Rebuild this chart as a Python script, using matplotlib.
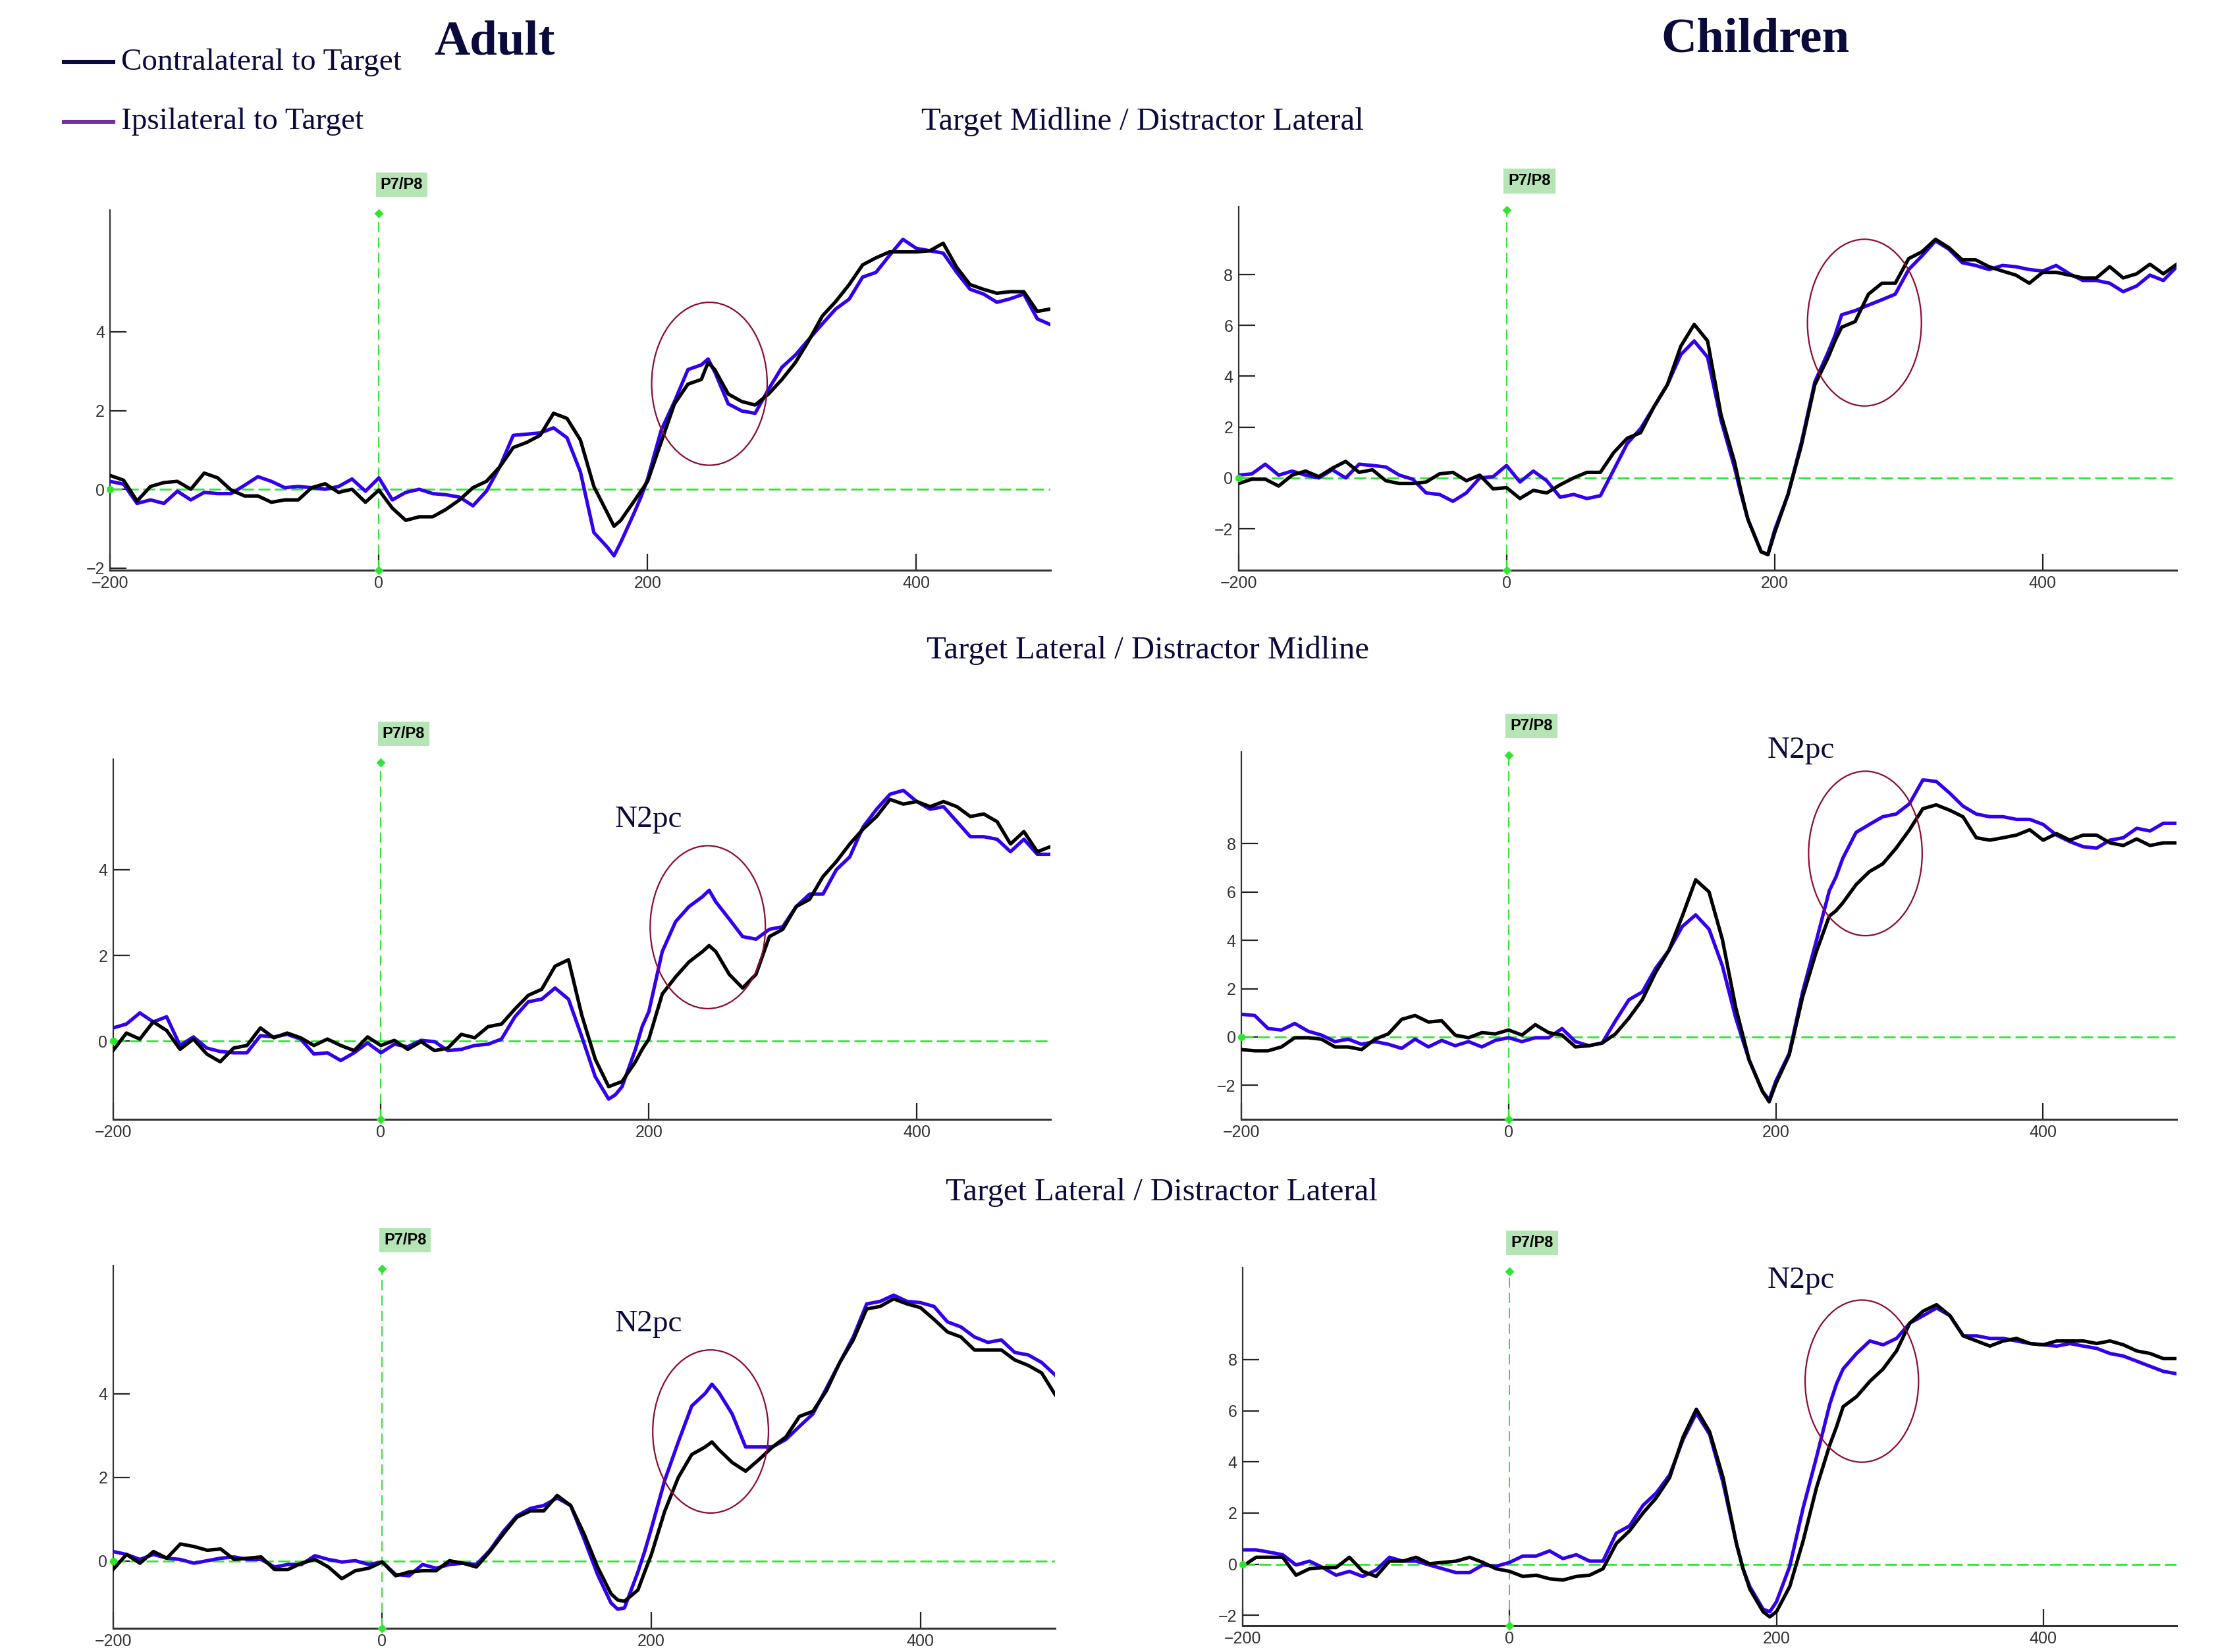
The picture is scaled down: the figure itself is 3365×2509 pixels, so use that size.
import matplotlib
matplotlib.use('Agg')
import matplotlib.pyplot as plt
import matplotlib.transforms as mtransforms
from matplotlib.patches import Ellipse

# time axis (ms)
time_ms = [-200, -190, -180, -170, -160, -150, -140, -130, -120, -110,
           -100, -90, -80, -70, -60, -50, -40, -30, -20, -10,
           0, 10, 20, 30, 40, 50, 60, 70, 80, 90,
           100, 110, 120, 130, 140, 150, 160, 170, 175, 180,
           190, 195, 200, 210, 220, 230, 240, 245, 250, 260,
           270, 280, 290, 300, 310, 320, 330, 340, 350, 360,
           370, 380, 390, 400, 410, 420, 430, 440, 450, 460,
           470, 480, 490, 500]

# Adult - Target Midline / Distractor Lateral
adult_tmdl_contra = [0.35, 0.23, -0.30, 0.07, 0.17, 0.20, 0.00, 0.41, 0.29, -0.02,
                     -0.17, -0.17, -0.33, -0.27, -0.27, 0.04, 0.14, -0.08, 0.00, -0.33,
                     -0.02, -0.48, -0.79, -0.70, -0.70, -0.51, -0.27, 0.04, 0.20, 0.57,
                     1.06, 1.19, 1.37, 1.93, 1.80, 1.25, 0.07, -0.60, -0.94, -0.79,
                     -0.30, -0.05, 0.20, 1.19, 2.17, 2.67, 2.79, 3.22, 3.04, 2.42,
                     2.23, 2.14, 2.42, 2.79, 3.22, 3.78, 4.40, 4.77, 5.20, 5.70,
                     5.88, 6.03, 6.03, 6.03, 6.06, 6.25, 5.64, 5.20, 5.08, 4.98,
                     5.02, 5.02, 4.52, 4.58]
adult_tmdl_ipsi = [0.20, 0.13, -0.36, -0.27, -0.36, -0.05, -0.27, -0.08, -0.11, -0.11,
                   0.10, 0.32, 0.20, 0.04, 0.07, 0.04, 0.00, 0.07, 0.26, -0.05,
                   0.29, -0.27, -0.08, 0.00, -0.11, -0.14, -0.20, -0.42, -0.05, 0.57,
                   1.37, 1.40, 1.43, 1.56, 1.31, 0.44, -1.10, -1.47, -1.69, -1.35,
                   -0.60, -0.20, 0.26, 1.49, 2.23, 3.04, 3.16, 3.31, 2.98, 2.17,
                   1.99, 1.93, 2.54, 3.10, 3.41, 3.81, 4.20, 4.58, 4.83, 5.39,
                   5.51, 5.94, 6.35, 6.12, 6.06, 6.00, 5.51, 5.08, 4.96, 4.75,
                   4.84, 4.96, 4.33, 4.18]

# Children - Target Midline / Distractor Lateral
child_tmdl_contra = [-0.22, -0.05, -0.05, -0.32, 0.11, 0.27, 0.05, 0.38, 0.65, 0.22,
                     0.32, -0.11, -0.22, -0.22, -0.16, 0.16, 0.22, -0.11, 0.11, -0.43,
                     -0.38, -0.81, -0.49, -0.59, -0.27, 0.00, 0.22, 0.22, 1.00, 1.56,
                     1.78, 2.80, 3.67, 5.18, 6.04, 5.39, 2.48, 0.65, -0.54, -1.62,
                     -2.91, -3.02, -2.16, -0.65, 1.29, 3.67, 4.75, 5.39, 5.93, 6.15,
                     7.23, 7.66, 7.66, 8.63, 8.90, 9.39, 9.06, 8.58, 8.58, 8.31,
                     8.14, 7.98, 7.66, 8.09, 8.09, 7.98, 7.87, 7.87, 8.31, 7.87,
                     8.03, 8.41, 8.03, 8.41]
child_tmdl_ipsi = [0.11, 0.16, 0.54, 0.11, 0.27, 0.11, 0.00, 0.32, 0.00, 0.54,
                   0.49, 0.43, 0.11, -0.05, -0.59, -0.65, -0.92, -0.59, 0.00, 0.05,
                   0.49, -0.16, 0.27, -0.11, -0.76, -0.65, -0.81, -0.70, 0.32, 1.35,
                   1.94, 2.80, 3.67, 4.85, 5.39, 4.75, 2.27, 0.43, -0.65, -1.62,
                   -2.91, -3.00, -2.05, -0.65, 1.40, 3.78, 4.96, 5.60, 6.42, 6.58,
                   6.80, 7.01, 7.23, 8.20, 8.74, 9.33, 9.00, 8.47, 8.36, 8.20,
                   8.36, 8.31, 8.20, 8.14, 8.36, 8.03, 7.77, 7.77, 7.66, 7.33,
                   7.55, 7.98, 7.77, 8.31]

# Adult - Target Lateral / Distractor Midline
adult_tldm_contra = [-0.22, 0.19, 0.05, 0.45, 0.25, -0.19, 0.05, -0.30, -0.48, -0.16,
                     -0.10, 0.31, 0.08, 0.19, 0.08, -0.10, 0.05, -0.10, -0.22, 0.10,
                     -0.10, 0.02, -0.19, -0.01, -0.22, -0.16, 0.16, 0.08, 0.34, 0.40,
                     0.75, 1.07, 1.21, 1.75, 1.90, 0.60, -0.42, -1.06, -1.00, -0.94,
                     -0.48, -0.19, 0.05, 1.10, 1.50, 1.85, 2.09, 2.23, 2.09, 1.56,
                     1.24, 1.56, 2.44, 2.61, 3.14, 3.31, 3.84, 4.19, 4.60, 4.95,
                     5.24, 5.64, 5.53, 5.59, 5.47, 5.59, 5.47, 5.24, 5.30, 5.12,
                     4.60, 4.89, 4.42, 4.54]
adult_tldm_ipsi = [0.31, 0.40, 0.66, 0.45, 0.57, -0.10, 0.10, -0.16, -0.24, -0.27,
                   -0.27, 0.13, 0.10, 0.16, 0.05, -0.30, -0.27, -0.45, -0.27, -0.04,
                   -0.27, -0.07, -0.13, 0.02, -0.01, -0.22, -0.19, -0.10, -0.07, 0.05,
                   0.57, 0.92, 0.98, 1.24, 0.98, 0.10, -0.83, -1.35, -1.25, -1.06,
                   -0.19, 0.34, 0.69, 2.09, 2.79, 3.14, 3.37, 3.52, 3.25, 2.85,
                   2.44, 2.38, 2.61, 2.67, 3.14, 3.43, 3.43, 4.00, 4.30, 5.00,
                   5.41, 5.76, 5.85, 5.59, 5.41, 5.47, 5.12, 4.77, 4.77, 4.71,
                   4.42, 4.71, 4.36, 4.36]

# Children - Target Lateral / Distractor Midline
child_tldm_contra = [-0.52, -0.57, -0.57, -0.41, -0.03, -0.03, -0.09, -0.41, -0.41, -0.52,
                     -0.09, 0.13, 0.73, 0.89, 0.62, 0.67, 0.08, -0.03, 0.18, 0.13,
                     0.29, 0.08, 0.51, 0.18, 0.08, -0.41, -0.36, -0.25, 0.13, 0.78,
                     1.54, 2.67, 3.59, 5.00, 6.50, 6.00, 4.03, 1.21, 0.13, -0.95,
                     -2.25, -2.68, -1.93, -0.74, 1.65, 3.48, 5.00, 5.22, 5.54, 6.30,
                     6.84, 7.16, 7.81, 8.57, 9.44, 9.60, 9.38, 9.11, 8.24, 8.14,
                     8.24, 8.35, 8.57, 8.14, 8.41, 8.14, 8.35, 8.35, 8.03, 7.92,
                     8.19, 7.92, 8.03, 8.03]
child_tldm_ipsi = [0.94, 0.89, 0.35, 0.29, 0.56, 0.24, 0.08, -0.19, -0.09, -0.30,
                   -0.19, -0.30, -0.47, -0.09, -0.41, -0.14, -0.36, -0.19, -0.41, -0.14,
                   -0.03, -0.19, -0.03, -0.03, 0.35, -0.19, -0.36, -0.25, 0.67, 1.54,
                   1.86, 2.84, 3.59, 4.57, 5.05, 4.46, 2.94, 0.78, -0.09, -0.95,
                   -2.25, -2.60, -1.82, -0.68, 1.86, 3.92, 6.05, 6.62, 7.38, 8.46,
                   8.79, 9.11, 9.22, 9.65, 10.63, 10.57, 10.09, 9.55, 9.22, 9.11,
                   9.11, 9.00, 9.00, 8.79, 8.35, 8.08, 7.87, 7.81, 8.14, 8.24,
                   8.63, 8.52, 8.84, 8.84]

# Adult - Target Lateral / Distractor Lateral
adult_tldl_contra = [-0.20, 0.16, -0.05, 0.23, 0.07, 0.41, 0.35, 0.26, 0.29, 0.04,
                     0.07, 0.10, -0.20, -0.20, -0.05, 0.04, -0.14, -0.42, -0.23, -0.17,
                     -0.02, -0.35, -0.26, -0.23, -0.23, 0.01, -0.05, -0.14, 0.23, 0.65,
                     1.05, 1.20, 1.20, 1.57, 1.33, 0.65, -0.14, -0.78, -0.93, -0.96,
                     -0.69, -0.26, 0.16, 1.20, 2.00, 2.55, 2.73, 2.85, 2.67, 2.36,
                     2.15, 2.43, 2.73, 2.97, 3.46, 3.58, 4.07, 4.75, 5.29, 6.03,
                     6.09, 6.27, 6.15, 6.06, 5.78, 5.48, 5.36, 5.05, 5.05, 5.05,
                     4.81, 4.68, 4.50, 3.98]
adult_tldl_ipsi = [0.23, 0.16, 0.04, 0.16, 0.07, 0.04, -0.05, 0.01, 0.07, 0.10,
                   0.04, 0.04, -0.14, -0.08, -0.08, 0.13, 0.04, -0.02, 0.01, -0.08,
                   -0.02, -0.32, -0.35, -0.08, -0.17, -0.08, -0.05, -0.08, 0.26, 0.71,
                   1.08, 1.26, 1.33, 1.51, 1.33, 0.53, -0.32, -1.00, -1.15, -1.12,
                   -0.26, 0.23, 0.78, 1.94, 2.85, 3.71, 4.01, 4.23, 4.04, 3.52,
                   2.73, 2.73, 2.73, 2.91, 3.22, 3.52, 4.13, 4.75, 5.36, 6.15,
                   6.21, 6.36, 6.21, 6.18, 6.09, 5.72, 5.60, 5.36, 5.23, 5.29,
                   4.99, 4.93, 4.75, 4.45]

# Children - Target Lateral / Distractor Lateral
child_tldl_contra = [-0.08, 0.27, 0.27, 0.27, -0.43, -0.18, -0.13, -0.13, 0.27, -0.28,
                     -0.48, 0.12, 0.12, 0.27, 0.02, 0.07, 0.12, 0.27, 0.07, -0.18,
                     -0.28, -0.48, -0.43, -0.57, -0.62, -0.48, -0.43, -0.18, 0.81, 1.31,
                     2.00, 2.60, 3.39, 4.97, 6.06, 5.17, 3.39, 0.81, -0.18, -0.97,
                     -1.86, -2.06, -1.86, -0.87, 0.91, 2.99, 4.67, 5.37, 6.16, 6.55,
                     7.15, 7.64, 8.34, 9.43, 9.90, 10.15, 9.72, 8.93, 8.73, 8.53,
                     8.73, 8.83, 8.63, 8.58, 8.73, 8.73, 8.73, 8.63, 8.73, 8.58,
                     8.34, 8.24, 8.04, 8.04]
child_tldl_ipsi = [0.56, 0.56, 0.47, 0.37, -0.03, 0.12, -0.13, -0.43, -0.28, -0.48,
                   -0.23, 0.27, 0.12, 0.12, -0.03, -0.18, -0.33, -0.33, -0.03, -0.08,
                   0.07, 0.32, 0.32, 0.52, 0.22, 0.37, 0.12, 0.12, 1.21, 1.50,
                   2.30, 2.79, 3.49, 4.87, 5.91, 5.07, 3.19, 0.81, -0.18, -0.87,
                   -1.76, -1.86, -1.47, -0.08, 2.20, 4.18, 6.26, 7.05, 7.64, 8.24,
                   8.73, 8.58, 8.83, 9.43, 9.72, 10.02, 9.72, 8.93, 8.93, 8.83,
                   8.83, 8.73, 8.63, 8.58, 8.53, 8.63, 8.53, 8.44, 8.24, 8.14,
                   7.94, 7.74, 7.54, 7.45]

x_ticks = [-200, 0, 200, 400]
adult_yticks = [-2, 0, 2, 4]
child_yticks = [-2, 0, 2, 4, 6, 8]

TEXT_COL = '#0b0b3b'
GREEN = '#2ee62e'
SERIF = ['Liberation Serif', 'DejaVu Serif']
NARROW = ['Liberation Sans Narrow', 'Liberation Sans', 'DejaVu Sans']

fig = plt.figure(figsize=(16.83, 12.545), dpi=200)


def panel(rect, contra, ipsi, ylim, yticks, ell):
    ax = fig.add_axes(rect)
    ax.plot(time_ms, ipsi, color='#3300ee', lw=1.9, zorder=3)
    ax.plot(time_ms, contra, color='black', lw=1.9, zorder=4)
    ax.set_xlim(-200, 500)
    ax.set_ylim(*ylim)
    for s in ['top', 'right']:
        ax.spines[s].set_visible(False)
    ax.spines['left'].set_color('#333333')
    ax.spines['left'].set_linewidth(0.8)
    ax.spines['bottom'].set_color('#333333')
    ax.spines['bottom'].set_linewidth(1.1)
    ax.set_xticks(x_ticks)
    ax.set_yticks(yticks)
    ax.tick_params(direction='in', length=9, width=0.8, color='#222222',
                   labelsize=9, labelcolor='#333333', pad=3)
    for lab in ax.get_xticklabels() + ax.get_yticklabels():
        lab.set_family(NARROW)
    # baseline and stimulus onset
    ax.axhline(0, color=GREEN, lw=1.0, dashes=(6.5, 2.5), zorder=2)
    ax.plot([-200], [0], 'o', color=GREEN, ms=3, clip_on=False, zorder=5)
    trans = mtransforms.blended_transform_factory(ax.transData, ax.transAxes)
    ax.plot([0, 0], [0.0, 0.99], color=GREEN, lw=0.7, dashes=(8, 4),
            transform=trans, clip_on=False, zorder=2)
    ax.plot([0, 0], [0.0, 0.99], 'D', color=GREEN, ms=2.5,
            transform=trans, clip_on=False, zorder=5)
    ax.text(17, 1.07, 'P7/P8', transform=trans, ha='center', va='center',
            fontsize=8.5, fontweight='bold', family=NARROW, color='black',
            bbox=dict(boxstyle='square,pad=0.3', fc='#b5e4b5', ec='none'))
    cx, cy, w, h = ell
    ax.add_patch(Ellipse((cx, cy), w, h, fill=False, ec='#8b0a30', lw=0.8,
                         zorder=6))
    return ax


panel([0.0497, 0.655, 0.4243, 0.218], adult_tmdl_contra, adult_tmdl_ipsi,
      (-2.05, 7.1), adult_yticks, (246, 2.68, 86, 4.14))
panel([0.5587, 0.655, 0.4233, 0.220], child_tmdl_contra, child_tmdl_ipsi,
      (-3.62, 10.68), child_yticks, (267, 6.11, 85, 6.56))
panel([0.051, 0.3225, 0.423, 0.218], adult_tldm_contra, adult_tldm_ipsi,
      (-1.82, 6.58), [0, 2, 4], (244, 2.66, 86, 3.8))
panel([0.560, 0.3225, 0.422, 0.2225], child_tldm_contra, child_tldm_ipsi,
      (-3.4, 11.8), child_yticks, (267, 7.59, 85, 6.8))
panel([0.051, 0.0145, 0.425, 0.2195], adult_tldl_contra, adult_tldl_ipsi,
      (-1.6, 7.07), [0, 2, 4], (244, 3.1, 86, 3.9))
panel([0.5606, 0.016, 0.4214, 0.2167], child_tldl_contra, child_tldl_ipsi,
      (-2.4, 11.6), child_yticks, (264, 7.16, 85, 6.34))

# legend
fig.add_artist(plt.Line2D([0.0287, 0.051], [0.9624, 0.9624], color='#0a0a40', lw=2.2))
fig.add_artist(plt.Line2D([0.0287, 0.051], [0.9264, 0.9264], color='#7030a0', lw=2.2))
fig.text(0.0548, 0.9624, 'Contralateral to Target', fontsize=17, family=SERIF,
         color=TEXT_COL, va='center')
fig.text(0.0548, 0.9264, 'Ipsilateral to Target', fontsize=17, family=SERIF,
         color=TEXT_COL, va='center')

# group headers
fig.text(0.2232, 0.9743, 'Adult', fontsize=27, fontweight='bold', family=SERIF,
         color=TEXT_COL, ha='center', va='center')
fig.text(0.792, 0.976, 'Children', fontsize=27, fontweight='bold', family=SERIF,
         color=TEXT_COL, ha='center', va='center')

# condition titles
fig.text(0.5153, 0.9264, 'Target Midline / Distractor Lateral', fontsize=17.5,
         family=SERIF, color=TEXT_COL, ha='center', va='center')
fig.text(0.5179, 0.6065, 'Target Lateral / Distractor Midline', fontsize=17.5,
         family=SERIF, color=TEXT_COL, ha='center', va='center')
fig.text(0.5242, 0.278, 'Target Lateral / Distractor Lateral', fontsize=17.5,
         family=SERIF, color=TEXT_COL, ha='center', va='center')

# N2pc labels
for x, y in [(0.2927, 0.5038), (0.8125, 0.5458), (0.2927, 0.1985), (0.8125, 0.225)]:
    fig.text(x, y, 'N2pc', fontsize=17, family=SERIF, color=TEXT_COL,
             ha='center', va='center')

fig.savefig('out.png', dpi=200, facecolor='white')
